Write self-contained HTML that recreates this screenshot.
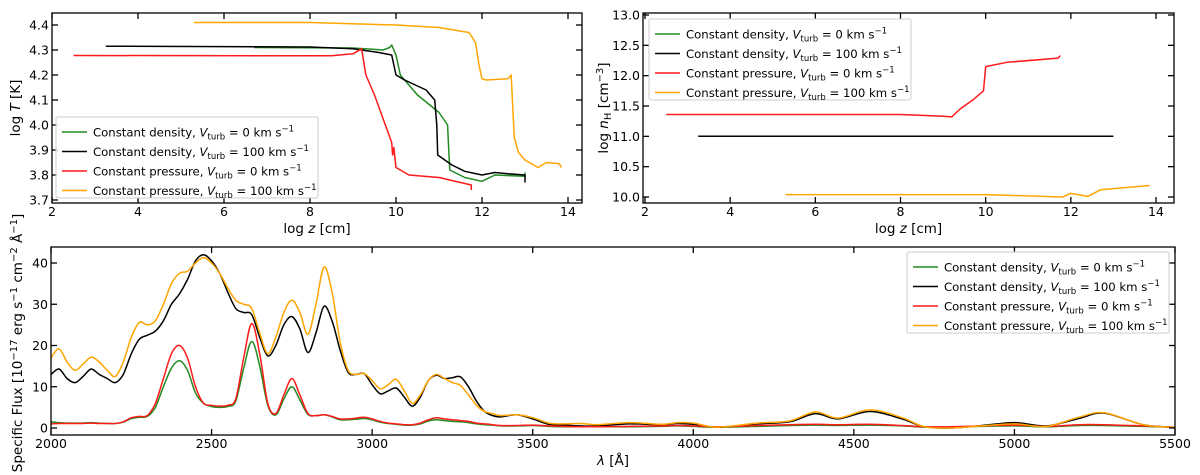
<!DOCTYPE html>
<html><head><meta charset="utf-8"><style>
html,body{margin:0;padding:0;background:#fff;}
svg{display:block;font-family:"DejaVu Sans","Liberation Sans",sans-serif;}
</style></head><body>
<svg id="chart" width="1200" height="475" viewBox="0 0 1200 475"></svg>
<script>
// ---- Data ----
const tlOrangeX=[5.3,8,10,11,11.7,11.85,11.93,12.0,12.1,12.6,12.68,12.72,12.75,12.85,13.0,13.3,13.5,13.8,13.85];
const tlOrangeY=[4.41,4.41,4.40,4.39,4.37,4.33,4.24,4.185,4.18,4.185,4.2,4.05,3.95,3.89,3.86,3.83,3.85,3.845,3.83];
const tlBlackX=[3.25,8,9,9.6,9.9,10.0,10.2,10.7,10.9,10.95,10.97,11.3,11.6,12,12.3,12.6,13,13];
const tlBlackY=[4.315,4.312,4.305,4.29,4.28,4.2,4.18,4.14,4.1,4.0,3.88,3.84,3.815,3.8,3.81,3.805,3.8,3.77];
const tlGreenX=[6.7,9.0,9.7,9.85,9.9,10.0,10.1,10.5,11.0,11.2,11.22,11.25,11.6,12,12.3,13,13];
const tlGreenY=[4.31,4.308,4.30,4.31,4.32,4.28,4.2,4.12,4.05,4.0,3.92,3.82,3.79,3.775,3.8,3.795,3.81];
const tlRedX=[2.5,8.5,9,9.2,9.3,9.5,9.9,9.92,9.95,10.0,10.3,11,11.5,11.75,11.75];
const tlRedY=[4.278,4.277,4.285,4.305,4.2,4.12,3.93,3.88,3.91,3.83,3.8,3.79,3.77,3.76,3.74];

const trRedX=[2.5,8,9.0,9.2,9.4,9.7,9.95,10.0,10.5,11.7,11.75];
const trRedY=[11.36,11.36,11.33,11.32,11.45,11.6,11.75,12.15,12.22,12.29,12.33];
const trBlackX=[3.25,13.0];
const trBlackY=[11.0,11.0];
const trOrangeX=[5.3,10,11.8,12.0,12.4,12.7,13.85];
const trOrangeY=[10.04,10.04,10.0,10.06,10.01,10.12,10.19];

const wl=[2000,2025,2050,2075,2100,2125,2150,2175,2200,2225,2250,2275,2300,2325,2350,2375,2400,2425,2450,2475,2500,2525,2550,2575,2600,2625,2650,2675,2700,2725,2750,2775,2800,2825,2850,2875,2900,2925,2950,2975,3000,3025,3050,3075,3100,3125,3150,3175,3200,3225,3250,3275,3300,3325,3350,3375,3400,3450,3500,3550,3600,3650,3700,3800,3900,3950,4000,4075,4200,4300,4380,4450,4550,4650,4720,4800,4900,5000,5100,5200,5280,5400,5500];
const fluxOrange=[17,19.2,16,14,15.5,17.2,16,14,12.5,16,22,25.6,25,26,30,35,37.5,38,40,41.3,40,37.5,34,31,30,29,23,18,22,28,31,28,22.7,30,39,33,21,14,13,13.2,11.5,9.5,10.5,11.8,9,6,8,11.5,13,12,11,10.3,8,5.5,4,3.5,3,3.2,2.5,1.2,1,1.1,0.8,1.3,0.9,1.3,1.2,0.2,1.2,1.7,3.9,2.4,4.4,2.5,0.3,0,0.5,1.0,0.4,2.6,3.7,0.8,0.2];
const fluxBlack=[13,14.3,12,11,12.5,14.3,13,12,11,13,18,21.5,22.5,23.5,26,30,32.5,36,40.5,42,40.5,37.5,33,29,28,27.5,22,17.5,20,25,27,24,18.3,23,29.5,26,19,13.5,13,13.2,10.5,8.3,9,9.7,7.5,5.3,7.5,11.5,12.8,12,12.2,12.4,10,6.5,4,3,2.7,3.2,2.2,0.9,0.7,0.5,0.5,1.0,0.8,1.1,0.9,0.2,1.0,1.5,3.5,2.2,4.0,2.2,0.3,0,0.6,1.3,0.5,2.3,3.6,0.8,0.2];
const fluxRed=[1,1.1,1.1,1.1,1.1,1.2,1.1,1.1,1.1,1.5,2.5,2.8,3,6,12,18,20,17,10,6,5.5,5.3,5.5,7,17,25.3,18,6,3.5,8,12,8,3.5,3,3.2,2.8,2.2,2.2,2.4,2.6,2.2,1.6,1.2,1,0.8,0.8,1.2,2,2.5,2.2,2,1.8,1.6,1.2,1,0.8,0.6,0.6,0.7,0.5,0.4,0.3,0.3,0.4,0.5,0.6,0.5,0.3,0.6,0.8,0.9,0.8,0.9,0.6,0.3,0.3,0.5,0.7,0.4,0.8,0.8,0.5,0.2];
const fluxGreen=[1.5,1.3,1.2,1.2,1.2,1.3,1.2,1.1,1.1,1.4,2.3,2.6,2.8,5,10,14.5,16.3,14,8.5,6,5.2,5,5.2,6.5,14.5,21,15,5.5,3.2,7,10,6.8,3.3,3,3.2,2.7,2,2,2.1,2.3,2,1.4,1.1,0.9,0.7,0.7,1,1.7,2,1.8,1.6,1.5,1.3,1,0.8,0.7,0.5,0.5,0.6,0.4,0.3,0.3,0.3,0.3,0.4,0.5,0.4,0.2,0.4,0.6,0.7,0.6,0.7,0.5,0.2,0.2,0.4,0.5,0.3,0.6,0.6,0.4,0.2];

const zTicks=[2,4,6,8,10,12,14];
const tTicks=[3.7,3.8,3.9,4.0,4.1,4.2,4.3,4.4];
const nTicks=[10.0,10.5,11.0,11.5,12.0,12.5,13.0];
const wlTicks=[2000,2500,3000,3500,4000,4500,5000,5500];
const fTicks=[0,10,20,30,40];

// ---- Helpers ----
const NS='http://www.w3.org/2000/svg';
const svg=document.getElementById('chart');
function mk(tag,attrs,parent){const e=document.createElementNS(NS,tag);for(const k in attrs)e.setAttribute(k,attrs[k]);(parent||svg).appendChild(e);return e;}
function lin(d0,d1,r0,r1){return v=>r0+(v-d0)*(r1-r0)/(d1-d0);}
const C={green:'#228B22',black:'#000',red:'#ff1a1a',orange:'#FFA500'};

function panel(name,box,sx,sy,xt,yt,xfmt,yfmt,xlab,ylab){
  const g=mk('g',{});
  
  
  const clip=mk('clipPath',{id:'clip-'+name},g);
  mk('rect',{x:box.x0,y:box.y0,width:box.x1-box.x0,height:box.y1-box.y0},clip);
  const plot=mk('g',{'clip-path':'url(#clip-'+name+')'},g);
  xt.forEach(v=>{const x=sx(v);
    mk('line',{x1:x,x2:x,y1:box.y1,y2:box.y1-6,stroke:'#000','stroke-width':1.3},g);
    mk('line',{x1:x,x2:x,y1:box.y0,y2:box.y0+6,stroke:'#000','stroke-width':1.3},g);
    const t=mk('text',{x:x,y:box.y1+13,'text-anchor':'middle','font-size':12.5},g);t.textContent=xfmt(v);
    });
  yt.forEach(v=>{const y=sy(v);
    mk('line',{x1:box.x0,x2:box.x0+6,y1:y,y2:y,stroke:'#000','stroke-width':1.3},g);
    mk('line',{x1:box.x1,x2:box.x1-6,y1:y,y2:y,stroke:'#000','stroke-width':1.3},g);
    const t=mk('text',{x:box.x0-3,y:y+4.5,'text-anchor':'end','font-size':12.5},g);t.textContent=yfmt(v);
    });
  mk('rect',{x:box.x0,y:box.y0,width:box.x1-box.x0,height:box.y1-box.y0,fill:'none',stroke:'#000','stroke-width':1.3},g);
  const xl=mk('text',{x:(box.x0+box.x1)/2,y:box.y1+30,'text-anchor':'middle','font-size':13.5},g);xl.innerHTML=xlab;
  
  const yl=mk('text',{x:0,y:0,'text-anchor':'middle','font-size':13.5,transform:`translate(${ylab.x},${ylab.y}) rotate(-90)`},g);yl.innerHTML=ylab.t;
  
  return plot;
}
function poly(plot,xs,ys,sx,sy,color,name){
  const d=xs.map((x,i)=>(i?'L':'M')+sx(x).toFixed(1)+','+sy(ys[i]).toFixed(1)).join('');
  const p=mk('path',{d:d,fill:'none',stroke:color,'stroke-width':1.5,'stroke-linejoin':'round'},plot);
  
}
function smooth(plot,xs,ys,sx,sy,color,name){
  const P=xs.map((x,i)=>[sx(x),sy(ys[i])]);
  let d='M'+P[0][0].toFixed(1)+','+P[0][1].toFixed(1);
  for(let i=0;i<P.length-1;i++){
    const p0=P[Math.max(0,i-1)],p1=P[i],p2=P[i+1],p3=P[Math.min(P.length-1,i+2)];
    const c1=[p1[0]+(p2[0]-p0[0])/6,p1[1]+(p2[1]-p0[1])/6];
    const c2=[p2[0]-(p3[0]-p1[0])/6,p2[1]-(p3[1]-p1[1])/6];
    d+='C'+c1.map(v=>v.toFixed(1)).join(',')+' '+c2.map(v=>v.toFixed(1)).join(',')+' '+p2[0].toFixed(1)+','+p2[1].toFixed(1);
  }
  const p=mk('path',{d:d,fill:'none',stroke:color,'stroke-width':1.5},plot);
  
}
const labels=[['Constant density, ','0',C.green],['Constant density, ','100',C.black],['Constant pressure, ','0',C.red],['Constant pressure, ','100',C.orange]];
function legend(x,y,w){
  const g=mk('g',{});
  
  
  mk('rect',{x:x,y:y,width:w,height:81,fill:'#fff','fill-opacity':0.85,stroke:'#ccc',rx:2},g);
  labels.forEach((l,i)=>{const yy=y+15+i*19.5;
    const e=mk('g',{},g);
    
    
    mk('line',{x1:x+6,x2:x+31,y1:yy,y2:yy,stroke:l[2],'stroke-width':1.6},e);
    const t=mk('text',{x:x+37,y:yy+4.5,'font-size':11.7},e);
    t.innerHTML=`${l[0]}<tspan font-style="italic">V</tspan><tspan font-size="8.5" dy="3">turb</tspan><tspan dy="-3"> = ${l[1]} km s</tspan><tspan font-size="8.5" dy="-5">−1</tspan>`;
  });
}

// ---- Top-left ----
{const box={x0:52,x1:582,y0:13,y1:203};
 const sx=lin(2,14,52,568), sy=lin(3.7,4.4,200,25);
 const p=panel('temperature-panel',box,sx,sy,zTicks,tTicks,v=>v,v=>v.toFixed(1),'log <tspan font-style="italic">z</tspan> [cm]',{x:20,y:108,t:'log <tspan font-style="italic">T</tspan> [K]'});
 poly(p,tlGreenX,tlGreenY,sx,sy,C.green,'line-cd0');
 poly(p,tlBlackX,tlBlackY,sx,sy,C.black,'line-cd100');
 poly(p,tlRedX,tlRedY,sx,sy,C.red,'line-cp0');
 poly(p,tlOrangeX,tlOrangeY,sx,sy,C.orange,'line-cp100');
 legend(56,117,262);}
// ---- Top-right ----
{const box={x0:643,x1:1174,y0:13,y1:203};
 const sx=lin(2,14,645,1156), sy=lin(10,13,197,15);
 const p=panel('density-panel',box,sx,sy,zTicks,nTicks,v=>v,v=>v.toFixed(1),'log <tspan font-style="italic">z</tspan> [cm]',{x:608,y:108,t:'log <tspan font-style="italic">n</tspan><tspan font-size="10" dy="3">H</tspan><tspan dy="-3"> [cm</tspan><tspan font-size="10" dy="-5">−3</tspan><tspan dy="5">]</tspan>'});
 poly(p,trBlackX,trBlackY,sx,sy,C.black,'line-cd100');
 poly(p,trRedX,trRedY,sx,sy,C.red,'line-cp0');
 poly(p,trOrangeX,trOrangeY,sx,sy,C.orange,'line-cp100');
 legend(649,19,262);}
// ---- Bottom ----
{const box={x0:51,x1:1175,y0:247,y1:435};
 const sx=lin(2000,5500,51,1175), sy=lin(0,40,428,263);
 const p=panel('spectrum-panel',box,sx,sy,wlTicks,fTicks,v=>v,v=>v,'<tspan font-style="italic">λ</tspan> [Å]',{x:22,y:343,t:'Specific Flux [10<tspan font-size="10" dy="-5">−17</tspan><tspan dy="5"> erg s</tspan><tspan font-size="10" dy="-5">−1</tspan><tspan dy="5"> cm</tspan><tspan font-size="10" dy="-5">−2</tspan><tspan dy="5"> Å</tspan><tspan font-size="10" dy="-5">−1</tspan><tspan dy="5">]</tspan>'});
 smooth(p,wl,fluxGreen,sx,sy,C.green,'spectrum-cd0');
 smooth(p,wl,fluxBlack,sx,sy,C.black,'spectrum-cd100');
 smooth(p,wl,fluxRed,sx,sy,C.red,'spectrum-cp0');
 smooth(p,wl,fluxOrange,sx,sy,C.orange,'spectrum-cp100');
 legend(907,252,262);}
</script>
</body></html>
